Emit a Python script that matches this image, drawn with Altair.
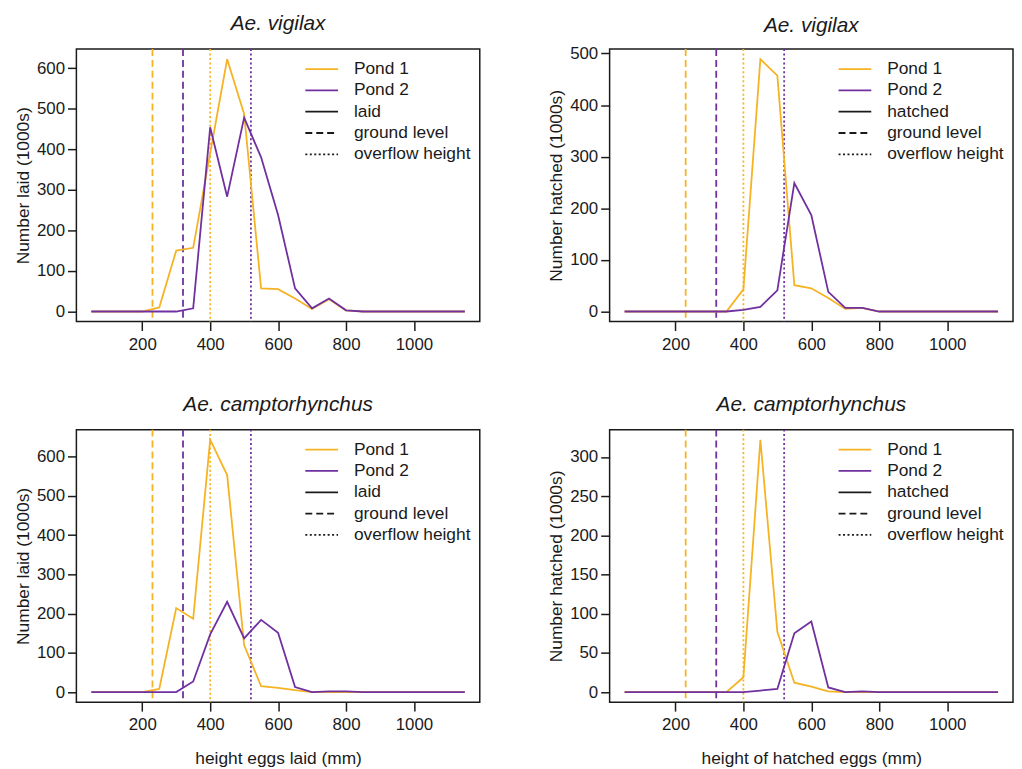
import altair as alt
import pandas as pd

# ---------------- data ----------------
HEIGHTS = [50, 100, 150, 200, 250, 300, 350, 400, 450, 500, 550, 600,
           650, 700, 750, 800, 850, 900, 950, 1000, 1050, 1100, 1150]

VIG_LAID_P1 = [0, 0, 0, 0, 10, 150, 157, 390, 622, 487, 57, 55,
               32, 6, 30, 3, 0, 0, 0, 0, 0, 0, 0]
VIG_LAID_P2 = [0, 0, 0, 0, 0, 0, 8, 454, 283, 478, 380, 238,
               57, 8, 32, 3, 0, 0, 0, 0, 0, 0, 0]

VIG_HATCH_P1 = [0, 0, 0, 0, 0, 0, 0, 43, 489, 457, 51, 45,
                26, 5, 7, 0, 0, 0, 0, 0, 0, 0, 0]
VIG_HATCH_P2 = [0, 0, 0, 0, 0, 0, 0, 3, 9, 41, 249, 187,
                38, 7, 7, 0, 0, 0, 0, 0, 0, 0, 0]

CAMP_LAID_P1 = [0, 0, 0, 0, 8, 214, 187, 643, 553, 120, 15, 11,
                5, 0, 0, 0, 0, 0, 0, 0, 0, 0, 0]
CAMP_LAID_P2 = [0, 0, 0, 0, 0, 0, 27, 147, 230, 137, 184, 151,
                13, 0, 2, 2, 0, 0, 0, 0, 0, 0, 0]

CAMP_HATCH_P1 = [0, 0, 0, 0, 0, 0, 0, 19, 322, 77, 12, 7,
                 1, 0, 0, 0, 0, 0, 0, 0, 0, 0, 0]
CAMP_HATCH_P2 = [0, 0, 0, 0, 0, 0, 0, 0, 2, 4, 75, 90,
                 6, 0, 1, 0, 0, 0, 0, 0, 0, 0, 0]

PONDS = ["Pond 1", "Pond 2"]
GROUND_LEVEL = [230, 320]
OVERFLOW_HEIGHT = [400, 520]

X_TICKS = [200, 400, 600, 800, 1000]
Y_TICKS_VIG_LAID = [0, 100, 200, 300, 400, 500, 600]
Y_TICKS_VIG_HATCH = [0, 100, 200, 300, 400, 500]
Y_TICKS_CAMP_LAID = [0, 100, 200, 300, 400, 500, 600]
Y_TICKS_CAMP_HATCH = [0, 50, 100, 150, 200, 250, 300]

KEYS_ALL = ["Pond 1", "Pond 2", "laid", "hatched", "ground level", "overflow height"]

# ---------------- styles ----------------
ORANGE = "#F5B324"
PURPLE = "#7030A0"
INK = "#1a1a1a"
FONT = "Liberation Sans"

COLOR_SCALE = alt.Scale(domain=KEYS_ALL, range=[ORANGE, PURPLE, INK, INK, INK, INK])
DASH_SCALE = alt.Scale(domain=KEYS_ALL,
                       range=[[1, 0], [1, 0], [1, 0], [1, 0], [7, 4], [2, 2.5]])

X_DOMAIN = [HEIGHTS[0] - 0.04 * (HEIGHTS[-1] - HEIGHTS[0]),
            HEIGHTS[-1] + 0.04 * (HEIGHTS[-1] - HEIGHTS[0])]

PW, PH = 407, 275
LW = 1.8


def panel(title, p1, p2, ylabel, yticks, word, xtitle, title_offset):
    df = pd.DataFrame({
        "height": HEIGHTS * 2,
        "value": p1 + p2,
        "pond": [PONDS[0]] * len(p1) + [PONDS[1]] * len(p2),
    })
    ymax = max(max(p1), max(p2))
    ydom = [-0.04 * ymax, ymax * 1.04]

    xaxis = alt.Axis(values=X_TICKS, title=xtitle, labelFlush=False, format="d")
    lines = alt.Chart(df).mark_line(strokeWidth=LW).encode(
        x=alt.X("height:Q", scale=alt.Scale(domain=X_DOMAIN, nice=False, zero=False), axis=xaxis),
        y=alt.Y("value:Q", scale=alt.Scale(domain=ydom, nice=False, zero=False),
                axis=alt.Axis(values=yticks, title=ylabel, labelFlush=False, format="d")),
        color=alt.Color("pond:N", scale=COLOR_SCALE, legend=None),
        order=alt.Order("height:Q"),
    )

    vdf = pd.DataFrame({
        "height": GROUND_LEVEL + OVERFLOW_HEIGHT,
        "pond": PONDS + PONDS,
        "kind": ["ground level"] * 2 + ["overflow height"] * 2,
    })
    vrules = alt.Chart(vdf).mark_rule(strokeWidth=LW).encode(
        x=alt.X("height:Q", scale=alt.Scale(domain=X_DOMAIN, nice=False, zero=False), axis=xaxis),
        color=alt.Color("pond:N", scale=COLOR_SCALE, legend=None),
        strokeDash=alt.StrokeDash("kind:N", scale=DASH_SCALE, legend=None),
    )

    labels = ["Pond 1", "Pond 2", word, "ground level", "overflow height"]
    ldf = pd.DataFrame({"key": labels})
    ypos = alt.Y("key:N", scale=alt.Scale(type="point", domain=labels, range=[20.2, 106.2], padding=0),
                 axis=None)
    lrules = alt.Chart(ldf).mark_rule(strokeWidth=LW).encode(
        x=alt.value(231), x2=alt.value(264), y=ypos,
        color=alt.Color("key:N", scale=COLOR_SCALE, legend=None),
        strokeDash=alt.StrokeDash("key:N", scale=DASH_SCALE, legend=None),
    )
    ltext = alt.Chart(ldf).mark_text(align="left", baseline="middle", fontSize=17.5,
                                     font=FONT, color=INK).encode(
        x=alt.value(280), y=ypos, text="key:N")

    return alt.layer(vrules, lines, lrules, ltext).resolve_scale(y="independent").properties(
        width=PW, height=PH,
        title=alt.TitleParams(title, fontSize=21, fontStyle="italic", fontWeight="normal",
                              font=FONT, color=INK, anchor="middle", offset=title_offset),
    )


p_tl = panel("Ae. vigilax", VIG_LAID_P1, VIG_LAID_P2, "Number laid (1000s)",
             Y_TICKS_VIG_LAID, "laid", None, 14)
p_tr = panel("Ae. vigilax", VIG_HATCH_P1, VIG_HATCH_P2, "Number hatched (1000s)",
             Y_TICKS_VIG_HATCH, "hatched", None, 9)
p_bl = panel("Ae. camptorhynchus", CAMP_LAID_P1, CAMP_LAID_P2, "Number laid (1000s)",
             Y_TICKS_CAMP_LAID, "laid", "height eggs laid (mm)", 14)
p_br = panel("Ae. camptorhynchus", CAMP_HATCH_P1, CAMP_HATCH_P2, "Number hatched (1000s)",
             Y_TICKS_CAMP_HATCH, "hatched", "height of hatched eggs (mm)", 14)

top = alt.hconcat(p_tl, p_tr, spacing=66)
bottom = alt.hconcat(p_bl, p_br, spacing=66)

chart = alt.vconcat(top, bottom, spacing=40).properties(
    padding={"left": 5, "top": 1, "right": 0, "bottom": 0},
    background="white",
).configure_view(
    stroke=INK, strokeWidth=1.5
).configure_axis(
    domain=False, grid=False, tickColor=INK, tickWidth=1.5, tickSize=9,
    labelFont=FONT, labelFontSize=17, labelColor=INK,
    titleFont=FONT, titleFontSize=17.5, titleFontWeight="normal", titleColor=INK,
).configure_axisX(
    labelPadding=6, titlePadding=16.5
).configure_axisY(
    labelPadding=3, titlePadding=4
)

chart.save("out.html", embed_options={"renderer": "svg", "actions": False})
